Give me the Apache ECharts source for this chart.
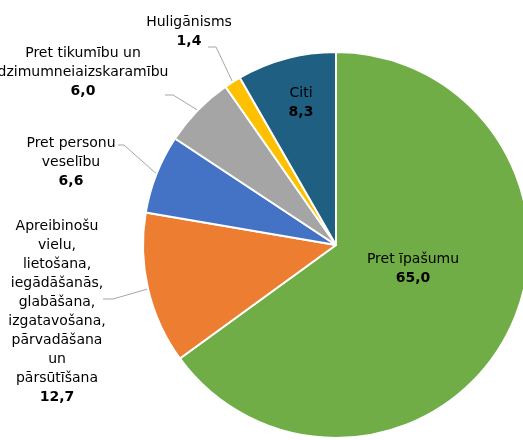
<!DOCTYPE html>
<html><head><meta charset="utf-8">
<script src="https://cdn.jsdelivr.net/npm/echarts@6/dist/echarts.min.js"></script>
<style>html,body{margin:0;padding:0;background:#fff}#c{width:523px;height:440px}</style>
</head><body><div id="c"></div>
<script>
const categories = [
  'Pret īpašumu',
  'Apreibinošu\nvielu,\nlietošana,\niegādāšanās,\nglabāšana,\nizgatavošana,\npārvadāšana\nun\npārsūtīšana',
  'Pret personu\nveselību',
  'Pret tikumību un\ndzimumneiaizskaramību',
  'Huligānisms',
  'Citi'
];
const values = [65.0, 12.7, 6.6, 6.0, 1.4, 8.3];
const colors = ['#70AD47', '#ED7D31', '#4472C4', '#A5A5A5', '#FFC000', '#1F5F82'];
const labelPos = [[413, 269], [57, 312], [71, 162], [83, 72], [189, 32], [301, 103]];
// leader start / bend points (label side); end is computed on the slice edge
const leaderStart = [null, [[103, 299], [113, 299]], [[118, 145], [124, 145]], [[165, 95], [173, 95]], [[208, 47], [216, 47]], null];

const CX = 336, CY = 245, R = 193;
const total = values.reduce((a, b) => a + b, 0);
const cum = [];
values.reduce((acc, v, i) => { cum[i] = acc; return acc + v; }, 0);
function edgePoint(i) {
  const a = (cum[i] + values[i] / 2) / total * 2 * Math.PI;
  return [CX + R * Math.sin(a), CY - R * Math.cos(a)];
}

const chart = echarts.init(document.getElementById('c'));
const FONT = 'DejaVu Sans';
chart.setOption({
  animation: false,
  series: [{
    type: 'pie',
    center: [CX, CY],
    radius: [0, R],
    startAngle: 90,
    clockwise: true,
    avoidLabelOverlap: false,
    itemStyle: { borderColor: '#fff', borderWidth: 2 },
    label: {
      show: true,
      position: 'outside',
      color: '#000',
      fontFamily: FONT,
      align: 'center',
      formatter: p => '{n|' + p.name.split('\n').join('}\n{n|') + '}\n{v|' + p.value.toFixed(1).replace('.', ',') + '}',
      rich: {
        n: { fontFamily: FONT, fontSize: 14, lineHeight: 19, color: '#000', align: 'center' },
        v: { fontFamily: FONT, fontSize: 14, fontWeight: 'bold', lineHeight: 19, color: '#000', align: 'center' }
      }
    },
    labelLine: { show: true, length: 10, length2: 15, lineStyle: { color: '#A6A6A6', width: 1 } },
    labelLayout: p => {
      const i = p.dataIndex;
      const o = { x: labelPos[i][0], y: labelPos[i][1], align: 'center', verticalAlign: 'middle' };
      if (leaderStart[i]) o.labelLinePoints = [leaderStart[i][0], leaderStart[i][1], edgePoint(i)];
      return o;
    },
    data: categories.map((c, i) => ({
      name: c, value: values[i], itemStyle: { color: colors[i] },
      labelLine: { show: !!leaderStart[i] }
    }))
  }]
});
</script></body></html>
